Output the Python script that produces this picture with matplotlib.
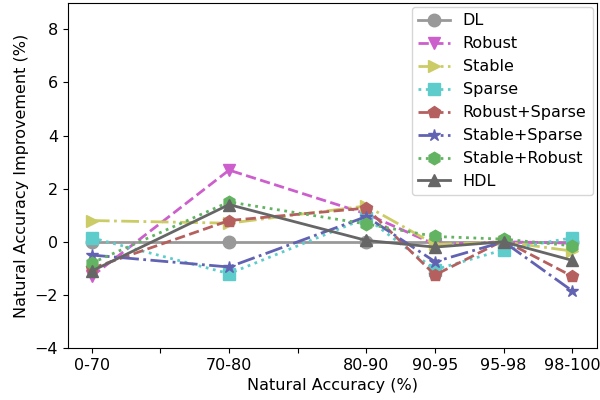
import numpy as np
import matplotlib
matplotlib.use("Agg")
import matplotlib.pyplot as plt

plt.rcParams['font.size'] = 11.5

# accuracy bins and their x positions
bins = ['0-70', '70-80', '80-90', '90-95', '95-98', '98-100']
xpos = [0, 2, 4, 5, 6, 7]

dl = [0, 0, 0, 0, 0, 0]
robust = [-1.3, 2.7, 1.05, -0.1, 0.0, -0.05]
stable = [0.8, 0.7, 1.35, -0.1, 0.0, -0.35]
sparse = [0.15, -1.2, 0.9, -1.05, -0.3, 0.15]
robust_sparse = [-1.0, 0.8, 1.27, -1.25, 0.05, -1.3]
stable_sparse = [-0.5, -0.95, 0.95, -0.75, 0.0, -1.85]
stable_robust = [-0.8, 1.5, 0.67, 0.2, 0.1, -0.15]
hdl = [-1.1, 1.4, 0.05, -0.2, 0.0, -0.7]

series = [
    ("DL", dl, '#999999', 'o', '-'),
    ("Robust", robust, '#cc5fcc', 'v', '--'),
    ("Stable", stable, '#cccc66', '>', '-.'),
    ("Sparse", sparse, '#5fcccc', 's', ':'),
    ("Robust+Sparse", robust_sparse, '#b5605e', 'p', '--'),
    ("Stable+Sparse", stable_sparse, '#6262b3', '*', '-.'),
    ("Stable+Robust", stable_robust, '#62b362', 'h', ':'),
    ("HDL", hdl, '#666666', '^', '-'),
]

fig, ax = plt.subplots(figsize=(6, 4), dpi=100)
for name, vals, color, marker, ls in series:
    ax.plot(xpos, vals, color=color, marker=marker, linestyle=ls,
            linewidth=2, markersize=9, label=name)

ax.set_xticks(range(8))
labels = [''] * 8
for p, b in zip(xpos, bins):
    labels[p] = b
ax.set_xticklabels(labels)
ax.set_xlim(-0.35, 7.36)
ax.set_ylim(-4, 9)
ax.set_yticks([-4, -2, 0, 2, 4, 6, 8])
ax.set_xlabel('Natural Accuracy (%)')
ax.set_ylabel('Natural Accuracy Improvement (%)')
ax.legend(loc='upper right', borderaxespad=0.25)

plt.subplots_adjust(left=0.113, right=0.995, top=0.993, bottom=0.13)
plt.savefig('out.png', dpi=100)
